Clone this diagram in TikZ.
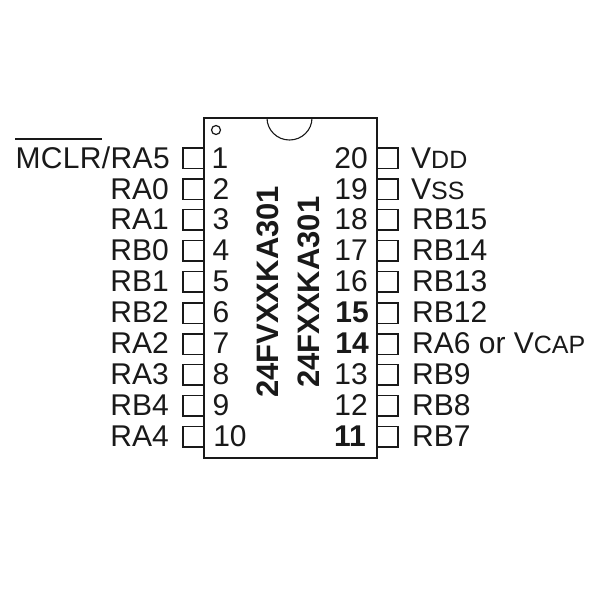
\documentclass[tikz,border=0pt]{standalone}
\usepackage{fontspec}
\setmainfont{Liberation Sans}
\newcommand{\lbl}{\fontsize{30}{32}\selectfont}
\newcommand{\lblb}{\fontsize{31}{33}\selectfont\bfseries}
\newcommand{\smc}{\fontsize{25}{27}\selectfont}
\tikzset{
  pinbox/.style={draw=black!90,line width=1.5pt,minimum width=21pt,minimum height=20.5pt,inner sep=0pt,outer sep=0pt},
  pinname/.style={inner sep=0pt,font=\lbl,text=black!90},
  leftname/.style={pinname,anchor=base east},
  rightname/.style={pinname,anchor=base west},
  pinnum/.style={pinname,anchor=base},
  partno/.style={inner sep=0pt,font=\lblb,text=black!90,rotate=90,anchor=base west}
}
\begin{document}
\begin{tikzpicture}[x=1pt,y=-1pt]
\useasboundingbox (0,0) rectangle (600,600);
\fill[white] (0,0) rectangle (600,600);
% body
\node[draw=black!90,line width=1.8pt,minimum width=173pt,minimum height=340pt,inner sep=0pt,outer sep=0pt] (body) at (290.5,288) {};
\draw[black!90,line width=1.1pt] (267,118) arc[start angle=180,end angle=0,x radius=22.5,y radius=22];
\node[draw=black!90,circle,line width=1.2pt,minimum size=9pt,inner sep=0pt] (dot) at (216,130) {};
% left pins
\foreach \n/\y in {1/158,2/189,3/219.5,4/250.5,5/281.5,6/313,7/344,8/374.5,9/405.5,10/436.5}{
  \node[pinbox] (L\n) at (193.5,\y) {};
}
\node[leftname] (tL1) at (170,168) {\addfontfeature{LetterSpace=1.2}MCLR/RA5};
\node[leftname] (tL2) at (169,199) {RA0};
\node[leftname] (tL3) at (169,229) {RA1};
\node[leftname] (tL4) at (169,260) {RB0};
\node[leftname] (tL5) at (169,291) {RB1};
\node[leftname] (tL6) at (169,322) {RB2};
\node[leftname] (tL7) at (169,353) {RA2};
\node[leftname] (tL8) at (169,384) {RA3};
\node[leftname] (tL9) at (169,415) {RB4};
\node[leftname] (tL10) at (169,446) {RA4};
\draw[black!90,line width=2.6pt] (15,139) -- (102,139);
% left numbers
\node[pinnum] (nL1) at (220,168) {1};
\node[pinnum] (nL2) at (221,199) {2};
\node[pinnum] (nL3) at (221,229) {3};
\node[pinnum] (nL4) at (221,260) {4};
\node[pinnum] (nL5) at (221,291) {5};
\node[pinnum] (nL6) at (221,322) {6};
\node[pinnum] (nL7) at (221,353) {7};
\node[pinnum] (nL8) at (221,384) {8};
\node[pinnum] (nL9) at (221,415) {9};
\node[pinnum] (nL10) at (230,446) {10};
% right pins
\foreach \n/\y in {20/158,19/189,18/219.5,17/250.5,16/281.5,15/313,14/344,13/374.5,12/405.5,11/436.5}{
  \node[pinbox] (R\n) at (387.5,\y) {};
}
\node[pinname,anchor=base east] (nR20) at (368,168) {20};
\node[pinname,anchor=base east] (nR19) at (368,199) {19};
\node[pinname,anchor=base east] (nR18) at (368,229) {18};
\node[pinname,anchor=base east] (nR17) at (368,260) {17};
\node[pinname,anchor=base east] (nR16) at (368,291) {16};
\node[pinname,anchor=base east,font=\lbl\bfseries] (nR15) at (369,322) {15};
\node[pinname,anchor=base east,font=\lbl\bfseries] (nR14) at (369,353) {14};
\node[pinname,anchor=base east] (nR13) at (368,384) {13};
\node[pinname,anchor=base east] (nR12) at (368,415) {12};
\node[pinname,anchor=base east,font=\lbl\bfseries] (nR11) at (366,446) {11};
\node[rightname] (tR20) at (411,168) {V{\smc DD}};
\node[rightname] (tR19) at (411,199) {V{\smc SS}};
\node[rightname] (tR18) at (412,229) {RB15};
\node[rightname] (tR17) at (412,260) {RB14};
\node[rightname] (tR16) at (412,291) {RB13};
\node[rightname] (tR15) at (412,322) {RB12};
\node[rightname] (tR14) at (412,353) {RA6 or V{\smc CAP}};
\node[rightname] (tR13) at (412,384) {RB9};
\node[rightname] (tR12) at (412,415) {RB8};
\node[rightname] (tR11) at (412,446) {RB7};
% part numbers
\node[partno] (p1) at (278,398) {24FVXXKA301};
\node[partno] (p2) at (319,388) {24FXXKA301};
\end{tikzpicture}
\end{document}
